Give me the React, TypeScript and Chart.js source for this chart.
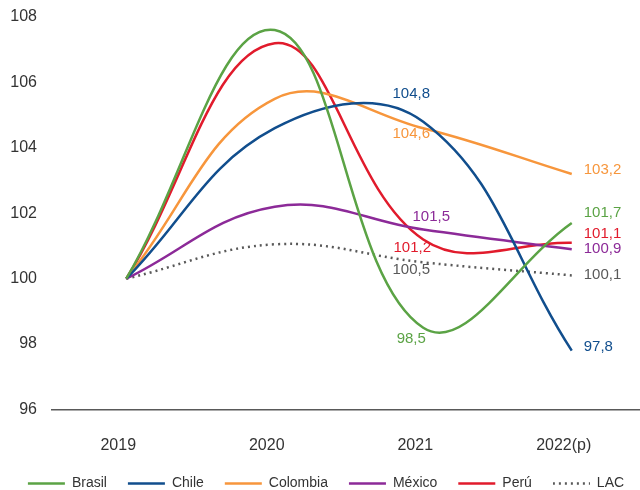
import React, { useEffect, useRef } from "react";
import { Chart, registerables } from "chart.js";

Chart.register(...registerables);

const years = ["2019", "2020", "2021", "2022(p)"];
const brasil = [100, 107.6, 98.5, 101.7];
const chile = [100, 104.6, 104.8, 97.8];
const colombia = [100, 105.5, 104.6, 103.2];
const mexico = [100, 102.2, 101.5, 100.9];
const peru = [100, 107.2, 101.2, 101.1];
const lac = [100, 101.05, 100.5, 100.1];
const yTicks = [96, 98, 100, 102, 104, 106, 108];

const FONT = "'Liberation Sans', Arial, sans-serif";
const LAC_COLOR = "#595959";

// label placement (pixel offsets from the point) for indices 2 and 3
const labelOffsets: Record<string, { i2: [number, number, CanvasTextAlign]; i3: [number, number, CanvasTextAlign] }> = {
  Brasil: { i2: [-12, 11, "center"], i3: [12, -10, "left"] },
  Chile: { i2: [-12, -28, "center"], i3: [12, -4, "left"] },
  Colombia: { i2: [-12, 6, "center"], i3: [12, -4, "left"] },
  "México": { i2: [8, -13, "center"], i3: [12, 0, "left"] },
  "Perú": { i2: [-11, 8, "center"], i3: [12, -9, "left"] },
  LAC: { i2: [-12, 8, "center"], i3: [12, -1, "left"] },
};

const fmt = (v: number) => v.toFixed(1).replace(".", ",");

const valueLabels = {
  id: "valueLabels",
  afterDatasetsDraw(chart: any) {
    const ctx = chart.ctx;
    ctx.save();
    ctx.font = `15px ${FONT}`;
    ctx.textBaseline = "middle";
    chart.data.datasets.forEach((ds: any, di: number) => {
      const meta = chart.getDatasetMeta(di);
      const off = labelOffsets[ds.label];
      [2, 3].forEach((idx) => {
        const el = meta.data[idx];
        if (!el) return;
        const o = idx === 2 ? off.i2 : off.i3;
        ctx.fillStyle = ds.borderColor;
        ctx.textAlign = o[2];
        ctx.fillText(fmt(ds.data[idx]), el.x + o[0], el.y + o[1]);
      });
    });
    ctx.restore();
  },
};

function makeDotSwatch(): HTMLCanvasElement {
  const c = document.createElement("canvas");
  c.width = 37;
  c.height = 3;
  const g = c.getContext("2d")!;
  g.fillStyle = LAC_COLOR;
  for (let x = 0; x < 37; x += 6) g.fillRect(x, 0.25, 2, 2.5);
  return c;
}

export default function App() {
  const ref = useRef<HTMLCanvasElement>(null);
  useEffect(() => {
    if (!ref.current) return;
    const dotSwatch = makeDotSwatch();
    const mk = (label: string, data: number[], color: string, dash?: number[]) => ({
      label, data, borderColor: color, backgroundColor: color, borderWidth: 2.5,
      borderDash: dash || [], pointRadius: 0, tension: 0.4, fill: false,
    });
    const chart = new Chart(ref.current, {
      type: "line",
      data: {
        labels: years,
        datasets: [
          mk("Brasil", brasil, "#5BA345"),
          mk("Chile", chile, "#114E8D"),
          mk("Colombia", colombia, "#F7963C"),
          mk("México", mexico, "#8C2A98"),
          mk("Perú", peru, "#E11B2C"),
          mk("LAC", lac, LAC_COLOR, [2, 4]),
        ],
      },
      options: {
        responsive: false,
        animation: false,
        layout: { padding: { top: 17, bottom: -10.5, left: 6, right: 0 } },
        plugins: {
          tooltip: { enabled: false },
          legend: {
            position: "bottom",
            labels: {
              usePointStyle: true, pointStyle: "line", pointStyleWidth: 37, padding: 21,
              color: "#333333", font: { family: FONT, size: 14 },
              generateLabels: (ch: any) =>
                (Chart.defaults.plugins.legend.labels.generateLabels as any)(ch).map((it: any) =>
                  it.text === "LAC" ? { ...it, pointStyle: dotSwatch } : it
                ),
            },
          },
        },
        scales: {
          x: {
            type: "category", offset: true,
            afterFit: (scale: any) => { scale.height = 46; },
            grid: { display: false, drawTicks: false },
            border: { display: true, color: "#595959", width: 1.5 },
            ticks: { color: "#333333", font: { family: FONT, size: 16 }, padding: 26, labelOffset: -8 },
          },
          y: {
            min: 96, max: 108,
            afterBuildTicks: (scale: any) => { scale.ticks = yTicks.map((v) => ({ value: v })); },
            afterFit: (scale: any) => { scale.width = 46; scale.paddingTop = 0; scale.paddingBottom = 0; },
            grid: { display: false, drawTicks: false },
            border: { display: false },
            ticks: { color: "#333333", font: { family: FONT, size: 16 }, padding: 15 },
          },
        },
      },
      plugins: [valueLabels],
    });
    return () => chart.destroy();
  }, []);
  return (
    <div style={{ width: 640, height: 490, overflow: "hidden", position: "relative", background: "#fff" }}>
      <style>{"body{margin:0}"}</style>
      <canvas ref={ref} width={646} height={490} style={{ display: "block" }} />
    </div>
  );
}
